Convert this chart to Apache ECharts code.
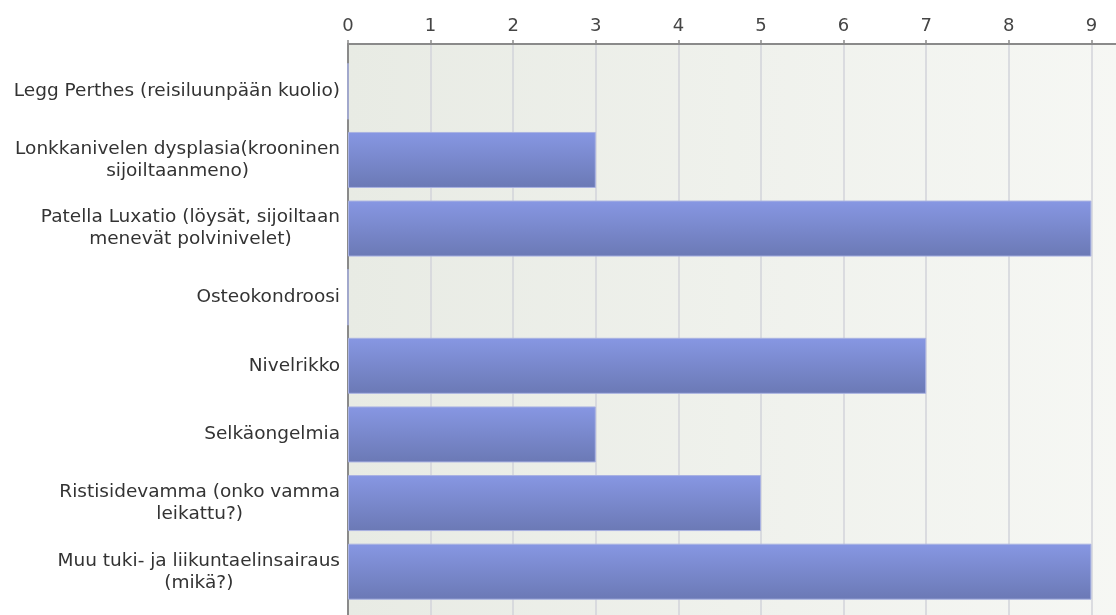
<!DOCTYPE html>
<html>
<head>
<meta charset="utf-8">
<script src="https://cdn.jsdelivr.net/npm/echarts@6/dist/echarts.min.js"></script>
<style>html,body{margin:0;padding:0;background:#fff;}#c{width:1116px;height:615px;}</style>
</head>
<body>
<div id="c"></div>
<script>
const categories = [
  'Legg Perthes (reisiluunpään kuolio)',
  'Lonkkanivelen dysplasia(krooninen\nsijoiltaanmeno)',
  'Patella Luxatio (löysät, sijoiltaan\nmenevät polvinivelet)',
  'Osteokondroosi',
  'Nivelrikko',
  'Selkäongelmia',
  'Ristisidevamma (onko vamma\nleikattu?)',
  'Muu tuki- ja liikuntaelinsairaus\n(mikä?)'
];
const values = [0, 3, 9, 0, 7, 3, 5, 9];
const xMin = 0, xMax = 10, xInterval = 1;

const FONT = 'DejaVu Sans';
const chart = echarts.init(document.getElementById('c'), null, {renderer: 'canvas'});
const gridLeft = 348, gridRight = -58;
chart.setOption({
  animation: false,
  backgroundColor: '#ffffff',
  grid: [
    {left: gridLeft, right: gridRight, top: 44, bottom: -10, show: true, borderWidth: 0,
     outerBoundsMode: 'none', containLabel: false,
     backgroundColor: new echarts.graphic.LinearGradient(0, 0, 1, 0, [
       {offset: 0, color: '#e8ebe4'}, {offset: 1, color: '#f7f8f5'}
     ])},
    {left: gridLeft, right: gridRight, top: 57, bottom: 9, outerBoundsMode: 'none', containLabel: false}
  ],
  xAxis: [
    {gridIndex: 0, type: 'value', position: 'top', min: xMin, max: xMax, interval: xInterval,
     axisLine: {show: true, onZero: false, lineStyle: {color: '#8a8a8a', width: 2}},
     axisTick: {show: true, length: 4, lineStyle: {color: '#8a8a8a', width: 1.5}},
     axisLabel: {fontFamily: FONT, fontSize: 18, color: '#454545', margin: 9},
     splitLine: {show: true, lineStyle: {color: '#d2d3da', width: 1.5}}},
    {gridIndex: 1, type: 'value', min: xMin, max: xMax, interval: xInterval, show: false}
  ],
  yAxis: [
    {gridIndex: 0, type: 'value', min: 0, max: 1, axisLabel: {show: false}, axisTick: {show: false},
     splitLine: {show: false}, axisLine: {show: true, onZero: false, lineStyle: {color: '#8a8a8a', width: 2}}},
    {gridIndex: 1, type: 'category', inverse: true, data: categories,
     axisLine: {show: false}, axisTick: {show: false}, splitLine: {show: false},
     axisLabel: {
       margin: 8, align: 'right',
       formatter: function (v) { return v.split('\n').map(l => '{c|' + l + '}').join('\n'); },
       rich: {c: {align: 'center', fontFamily: FONT, fontSize: 18.5, color: '#333333', lineHeight: 22}}
     }}
  ],
  series: [{
    type: 'bar', xAxisIndex: 1, yAxisIndex: 1, data: values, barWidth: 56,
    itemStyle: {
      color: new echarts.graphic.LinearGradient(0, 0, 0, 1, [
        {offset: 0, color: '#8797e3'}, {offset: 1, color: '#6b79b5'}
      ]),
      borderColor: '#a9b2e2', borderWidth: 1
    }
  }]
});
</script>
</body>
</html>
